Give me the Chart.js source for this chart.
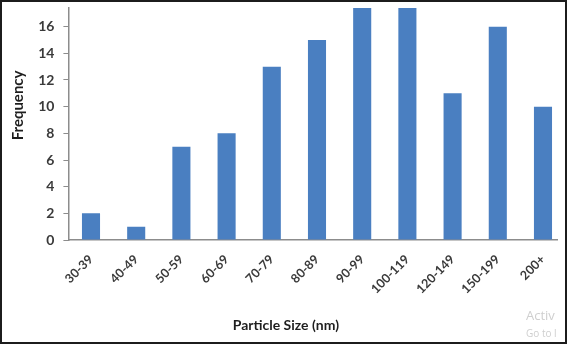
<!DOCTYPE html>
<html>
<head>
<meta charset="utf-8">
<script src="https://cdn.jsdelivr.net/npm/chart.js@4.4.1/dist/chart.umd.min.js"></script>
<style>
  html, body { margin: 0; padding: 0; background: #fff; }
  #frame {
    position: relative;
    width: 567px; height: 344px;
    box-sizing: border-box;
    border: 2px solid #1c1c1c;
    overflow: hidden;
  }
  #sizeChart { display: block; }
  .mark {
    position: absolute;
    font-family: "Open Sans", sans-serif;
    color: #cfcfcf;
    white-space: nowrap;
  }
</style>
</head>
<body>
<div id="frame">
  <canvas id="sizeChart" width="563" height="340"></canvas>
  <div class="mark" style="left:524px; top:304px; font-size:13px;">Activ</div>
  <div class="mark" style="left:524px; top:324px; font-size:10px;">Go to l</div>
</div>
<script>
const sizeRanges = ['30-39', '40-49', '50-59', '60-69', '70-79', '80-89', '90-99', '100-119', '120-149', '150-199', '200+'];
const frequency = [2, 1, 7, 8, 13, 15, 18, 18, 11, 16, 10];
const yTop = 17.4;
const xTitle = 'Particle Size (nm)';
const yTitle = 'Frequency';

const axisColor = '#8c8c8c';
const textColor = '#3a3a3a';
const titleColor = '#1e1e1e';

// axis titles sit a little off the plot centre, so they are drawn here
const axisTitles = {
    id: 'axisTitles',
    afterDraw(chart) {
        const { ctx, chartArea } = chart;
        ctx.save();
        ctx.fillStyle = titleColor;
        ctx.font = 'bold 14px Lato';
        ctx.textAlign = 'center';
        ctx.textBaseline = 'middle';
        ctx.fillText(xTitle, chartArea.left + chartArea.width * 0.445, chart.height - 17);
        ctx.translate(16, chartArea.top + chartArea.height * 0.42);
        ctx.rotate(-Math.PI / 2);
        ctx.font = 'bold 15px Lato';
        ctx.fillText(yTitle, 0, 0);
        ctx.restore();
    },
};

const ctx = document.getElementById('sizeChart').getContext('2d');
new Chart(ctx, {
    type: 'bar',
    data: {
        labels: sizeRanges,
        datasets: [{
            label: 'Frequency',
            data: frequency,
            backgroundColor: '#4a7fc1',
            borderWidth: 0,
            barPercentage: 0.8,
            categoryPercentage: 0.5,
        }],
    },
    options: {
        responsive: false,
        animation: false,
        layout: { padding: { left: 0, right: 8, top: 6, bottom: 0 } },
        plugins: {
            legend: { display: false },
            tooltip: { enabled: false },
        },
        scales: {
            x: {
                grid: { display: false },
                border: { display: true, color: axisColor, width: 1.5 },
                ticks: {
                    color: textColor,
                    font: { family: 'Lato', size: 12.5, weight: 'bold' },
                    minRotation: 45,
                    maxRotation: 45,
                    autoSkip: false,
                    padding: 4,
                },
                afterBuildTicks: scale => {
                    // the axis line stops short of the last slot's right half
                    scale._valueRange -= 0.19;
                },
                afterFit: scale => {
                    scale.height = 102;
                    scale.paddingLeft = 0;
                    scale.paddingRight = 0;
                },
            },
            y: {
                min: 0,
                max: yTop,
                grid: {
                    display: true,
                    drawOnChartArea: false,
                    drawTicks: true,
                    tickLength: 5,
                    color: axisColor,
                },
                border: { display: true, color: axisColor, width: 1.5 },
                ticks: {
                    stepSize: 2,
                    color: textColor,
                    font: { family: 'Lato', size: 14, weight: 'bold' },
                    padding: 9,
                },
                afterBuildTicks: scale => {
                    // keep only the even steps, no tick at the cut-off top
                    scale.ticks = scale.ticks.filter(t => t.value % 2 === 0);
                },
                afterFit: scale => {
                    scale.width = 66.4;
                    scale.paddingTop = 0;
                    scale.paddingBottom = 0;
                },
            },
        },
    },
    plugins: [axisTitles],
});
</script>
</body>
</html>
